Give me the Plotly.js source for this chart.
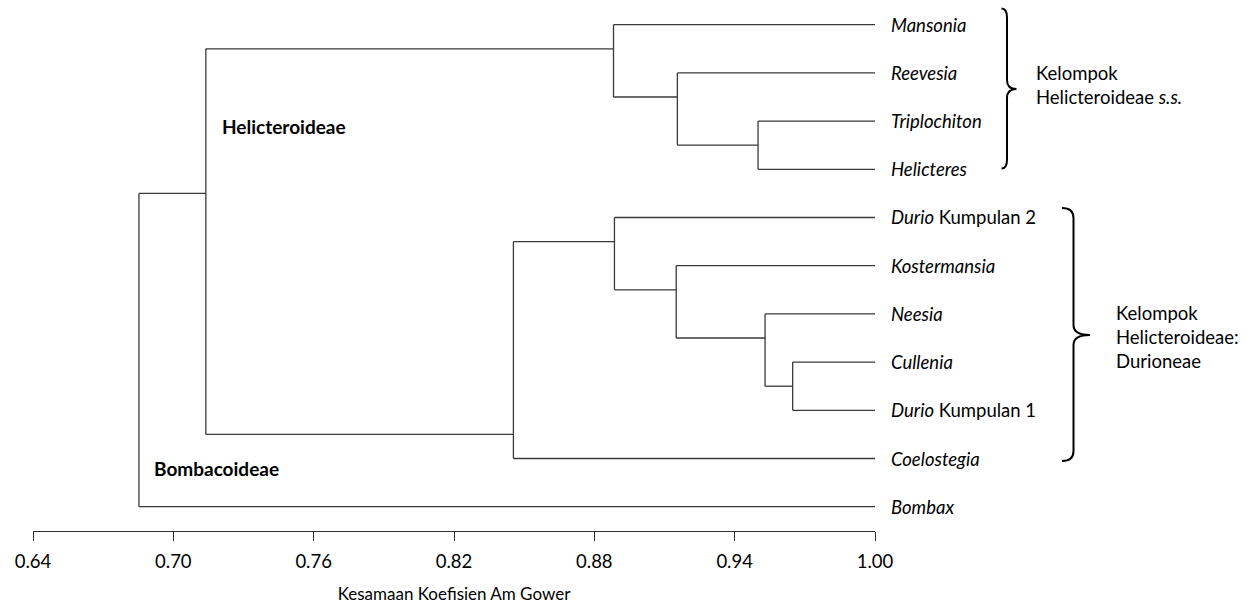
<!DOCTYPE html>
<html>
<head>
<meta charset="utf-8">
<script src="https://cdn.plot.ly/plotly-3.0.1.min.js"></script>
<style>
  html, body { margin: 0; padding: 0; background: #ffffff; }
  #chart { width: 1256px; height: 607px; }
</style>
</head>
<body>
<div id="chart"></div>
<script>
// ---- Data ----
const leafNames = ['Mansonia', 'Reevesia', 'Triplochiton', 'Helicteres', 'Durio Kumpulan 2',
  'Kostermansia', 'Neesia', 'Cullenia', 'Durio Kumpulan 1', 'Coelostegia', 'Bombax'];
const leafLabels = ['<i>Mansonia</i>', '<i>Reevesia</i>', '<i>Triplochiton</i>', '<i>Helicteres</i>',
  '<i>Durio</i> Kumpulan 2', '<i>Kostermansia</i>', '<i>Neesia</i>', '<i>Cullenia</i>',
  '<i>Durio</i> Kumpulan 1', '<i>Coelostegia</i>', '<i>Bombax</i>'];
const leafParent = ['A', 'B', 'C', 'C', 'D', 'E', 'F', 'G', 'G', 'H', 'Root'];

const nodeNames      = ['C', 'B', 'A', 'G', 'F', 'E', 'D', 'H', 'I', 'Root'];
const nodeSimilarity = [0.950, 0.9155, 0.8882, 0.9648, 0.953, 0.915, 0.8886, 0.8454, 0.7139, 0.6853];
const nodeSpanTop    = [2, 1, 0, 7, 6, 5, 4, 4.5, 0.5, 3.5];
const nodeSpanBottom = [3, 2.5, 1.5, 8, 7.5, 6.5, 5.5, 9, 8.5, 10];
const nodeStemY      = [2.5, 1.5, 0.5, 7.5, 6.5, 5.5, 4.5, 8.5, 3.5, 9.5];
const nodeParent     = ['B', 'A', 'I', 'F', 'E', 'D', 'H', 'I', 'Root', null];

const tickValues = [0.64, 0.70, 0.76, 0.82, 0.88, 0.94, 1.00];
const leafEnd = 1.00;

const subfamilyLabels = ['<b>Helicteroideae</b>', '<b>Bombacoideae</b>'];
const subfamilyX = [0.7199, 0.6910];
const subfamilyY = [2.116, 9.203];

const groupLabels = ['Kelompok<br>Helicteroideae <i>s.s.</i>', 'Kelompok<br>Helicteroideae:<br>Durioneae'];
const axisTitle = 'Kesamaan Koefisien Am Gower';

// ---- Build the dendrogram segments ----
const simOf = {};
nodeNames.forEach((n, i) => { simOf[n] = nodeSimilarity[i]; });

const xs = [], ys = [];
function seg(x0, y0, x1, y1) { xs.push(x0, x1, null); ys.push(y0, y1, null); }

leafNames.forEach((n, i) => seg(simOf[leafParent[i]], i, leafEnd, i));
nodeNames.forEach((n, i) => {
  seg(nodeSimilarity[i], nodeSpanTop[i], nodeSimilarity[i], nodeSpanBottom[i]);
  if (nodeParent[i]) seg(simOf[nodeParent[i]], nodeStemY[i], nodeSimilarity[i], nodeStemY[i]);
});

const FONT = 'Lato, "Open Sans", "DejaVu Sans", sans-serif';
const trace = {
  x: xs, y: ys, type: 'scatter', mode: 'lines',
  line: { color: '#3a3a3a', width: 1.3 },
  hoverinfo: 'skip', showlegend: false, connectgaps: false
};

// ---- Layout helpers (pixel -> paper) ----
const W = 1256, H = 607;
const mL = 33, mR = 381, mT = 0, mB = 76;
const pw = W - mL - mR, ph = H - mT - mB;
const px = v => (v - mL) / pw;
const py = v => 1 - (v - mT) / ph;

function bracePath(x0, xs_, xt, yTop, yTip, yBot, r) {
  const P = (a, b) => px(a).toFixed(5) + ',' + py(b).toFixed(5);
  return 'M' + P(x0, yTop) +
    ' Q' + P(xs_, yTop) + ' ' + P(xs_, yTop + r) +
    ' L' + P(xs_, yTip - r) +
    ' Q' + P(xs_, yTip) + ' ' + P(xt, yTip) +
    ' Q' + P(xs_, yTip) + ' ' + P(xs_, yTip + r) +
    ' L' + P(xs_, yBot - r) +
    ' Q' + P(xs_, yBot) + ' ' + P(x0, yBot);
}

const annotations = [];
leafLabels.forEach((t, i) => annotations.push({
  x: leafEnd, y: i, xref: 'x', yref: 'y', text: t, showarrow: false,
  xanchor: 'left', yanchor: 'middle', xshift: 14,
  font: { family: FONT, size: 18.5, color: '#000' }
}));
subfamilyLabels.forEach((t, i) => annotations.push({
  x: subfamilyX[i], y: subfamilyY[i], xref: 'x', yref: 'y', text: t, showarrow: false,
  xanchor: 'left', yanchor: 'middle',
  font: { family: FONT, size: 19, color: '#000' }
}));
annotations.push({
  x: px(1034), y: py(85), xref: 'paper', yref: 'paper', text: groupLabels[0], showarrow: false,
  xanchor: 'left', yanchor: 'middle', align: 'left',
  font: { family: FONT, size: 18.5, color: '#000' }
});
annotations.push({
  x: px(1114), y: py(337), xref: 'paper', yref: 'paper', text: groupLabels[1], showarrow: false,
  xanchor: 'left', yanchor: 'middle', align: 'left',
  font: { family: FONT, size: 18.5, color: '#000' }
});

const shapes = [
  { type: 'path', xref: 'paper', yref: 'paper', path: bracePath(1001.5, 1007, 1016.5, 8.5, 89, 168.5, 9),
    line: { color: '#000', width: 2 } },
  { type: 'path', xref: 'paper', yref: 'paper', path: bracePath(1062, 1073.5, 1090, 208, 335, 461, 10),
    line: { color: '#000', width: 2 } }
];

const layout = {
  width: W, height: H,
  margin: { l: mL, r: mR, t: mT, b: mB, pad: 0 },
  paper_bgcolor: '#fff', plot_bgcolor: '#fff',
  showlegend: false,
  font: { family: FONT, color: '#000' },
  xaxis: {
    range: [0.64, 1.00], tickvals: tickValues, tickformat: '.2f',
    ticks: 'outside', ticklen: 9, tickwidth: 1, tickcolor: '#333',
    ticklabelstandoff: 5,
    showline: true, linecolor: '#333', linewidth: 1,
    showgrid: false, zeroline: false, fixedrange: true,
    tickfont: { family: FONT, size: 18.5, color: '#000' },
    title: { text: axisTitle, font: { family: FONT, size: 17, color: '#000' }, standoff: 16 }
  },
  yaxis: { range: [10.504, -0.512], visible: false, showgrid: false, zeroline: false, fixedrange: true },
  annotations: annotations,
  shapes: shapes
};

Plotly.newPlot('chart', [trace], layout, { displayModeBar: false, staticPlot: true });
</script>
</body>
</html>
